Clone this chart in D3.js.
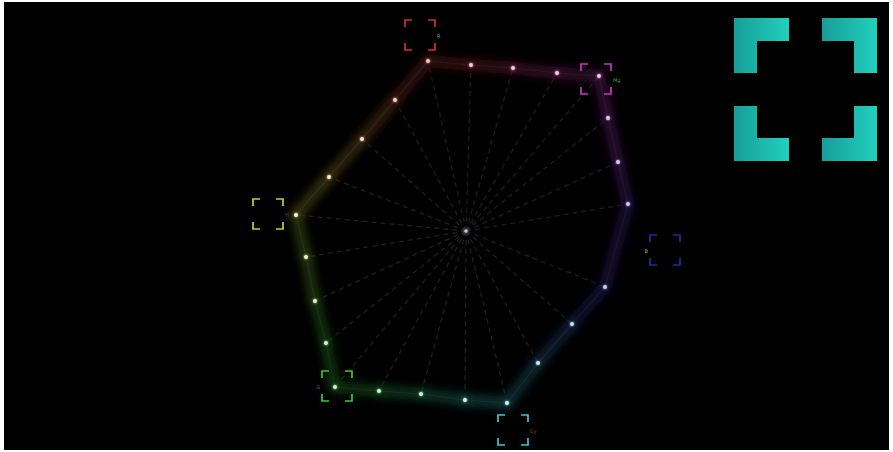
<!DOCTYPE html>
<html>
<head>
<meta charset="utf-8">
<script src="https://cdn.jsdelivr.net/npm/d3@7"></script>
<style>
  html, body { margin: 0; padding: 0; background: #fff; }
  svg { display: block; }
</style>
</head>
<body>
<svg id="scope" width="893" height="452"></svg>
<script>
// Trace points, in vectorscope units (u = Cb axis, v = Cr axis)
var traceU = [-0.19, 0.025, 0.235, 0.455, 0.665, 0.71, 0.76, 0.81, 0.695, 0.53, 0.36, 0.205,
              -0.005, -0.225, -0.435, -0.655, -0.70, -0.755, -0.80, -0.85, -0.685, -0.52, -0.355];
var traceV = [0.85, 0.83, 0.815, 0.79, 0.775, 0.565, 0.345, 0.135, -0.28, -0.465, -0.66, -0.86,
              -0.845, -0.815, -0.80, -0.78, -0.56, -0.35, -0.13, 0.08, 0.27, 0.46, 0.655];

// Colour targets
var targetNames = ["R", "Mg", "B", "Cy", "G", "Yl"];
var targetU = [-0.23, 0.65, 0.995, 0.235, -0.645, -0.99];
var targetV = [0.98, 0.76, -0.095, -0.995, -0.775, 0.085];
var targetHue = [0, 300, 240, 180, 120, 60];

var svg = d3.select("#scope");
var width = 893, height = 452;
var cx = 466, cy = 231, radius = 200;

var x = d3.scaleLinear().domain([-1, 1]).range([cx - radius, cx + radius]);
var y = d3.scaleLinear().domain([-1, 1]).range([cy + radius, cy - radius]);

// glow filters
var defs = svg.append("defs");
var blur = defs.append("filter").attr("id", "blur")
    .attr("x", "-50%").attr("y", "-50%").attr("width", "200%").attr("height", "200%");
blur.append("feGaussianBlur").attr("stdDeviation", 4);
var glow = defs.append("filter").attr("id", "glow")
    .attr("x", "-100%").attr("y", "-100%").attr("width", "300%").attr("height", "300%");
glow.append("feGaussianBlur").attr("in", "SourceGraphic").attr("stdDeviation", 1.2).attr("result", "b");
var merge = glow.append("feMerge");
merge.append("feMergeNode").attr("in", "b");
merge.append("feMergeNode").attr("in", "SourceGraphic");

var grad = defs.append("linearGradient").attr("id", "teal")
    .attr("x1", "0").attr("x2", "1").attr("y1", "0").attr("y2", "0");
grad.append("stop").attr("offset", "0%").attr("stop-color", "#169e98");
grad.append("stop").attr("offset", "100%").attr("stop-color", "#22cfbd");

// background
svg.append("rect").attr("x", 4).attr("y", 2)
    .attr("width", width - 8).attr("height", height - 4)
    .attr("fill", "#000");

// hue of a point from its angle, interpolated between the target hues
var targetAng = targetU.map(function(u, i) { return Math.atan2(targetV[i], u) * 180 / Math.PI; });
function hueAt(u, v) {
  var a = Math.atan2(v, u) * 180 / Math.PI;
  for (var i = 0; i < targetAng.length; i++) {
    var a0 = targetAng[i], a1 = targetAng[(i + 1) % targetAng.length];
    var h0 = targetHue[i], h1 = targetHue[(i + 1) % targetHue.length];
    if (h1 > h0) h1 -= 360;
    var span = ((a0 - a1) % 360 + 360) % 360;
    var off = ((a0 - a) % 360 + 360) % 360;
    if (off <= span) {
      var h = h0 + (h1 - h0) * off / span;
      return (h + 360) % 360;
    }
  }
  return 0;
}

var points = traceU.map(function(u, i) {
  return { u: u, v: traceV[i], hue: hueAt(u, traceV[i]) };
});

// spokes from centre
svg.append("g").selectAll("line.spoke")
    .data(points)
    .enter().append("line")
    .attr("class", "spoke")
    .attr("x1", x(0)).attr("y1", y(0))
    .attr("x2", function(d) { return x(d.u); })
    .attr("y2", function(d) { return y(d.v); })
    .attr("stroke", function(d) { return d3.hsl(d.hue, 0.12, 0.2).toString(); })
    .attr("stroke-opacity", 0.6)
    .attr("stroke-width", 1.3)
    .attr("stroke-dasharray", "5,4");

// glow band along the trace
var segs = points.map(function(d, i) { return [d, points[(i + 1) % points.length]]; });
svg.append("g").attr("filter", "url(#blur)")
  .selectAll("line")
    .data(segs)
    .enter().append("line")
    .attr("x1", function(d) { return x(d[0].u); })
    .attr("y1", function(d) { return y(d[0].v); })
    .attr("x2", function(d) { return x(d[1].u); })
    .attr("y2", function(d) { return y(d[1].v); })
    .attr("stroke", function(d) { return d3.hsl(d[0].hue, 0.7, 0.14).toString(); })
    .attr("stroke-opacity", 0.7)
    .attr("stroke-width", 13)
    .attr("stroke-linecap", "round");

svg.append("g")
  .selectAll("line")
    .data(segs)
    .enter().append("line")
    .attr("x1", function(d) { return x(d[0].u); })
    .attr("y1", function(d) { return y(d[0].v); })
    .attr("x2", function(d) { return x(d[1].u); })
    .attr("y2", function(d) { return y(d[1].v); })
    .attr("stroke", function(d) { return d3.hsl(d[0].hue, 0.4, 0.18).toString(); })
    .attr("stroke-opacity", 0.5)
    .attr("stroke-width", 1.2);

// trace dots
svg.append("g").attr("filter", "url(#glow)")
  .selectAll("circle")
    .data(points)
    .enter().append("circle")
    .attr("cx", function(d) { return x(d.u); })
    .attr("cy", function(d) { return y(d.v); })
    .attr("r", 1.9)
    .attr("fill", function(d) { return d3.hsl(d.hue, 0.9, 0.88).toString(); });

// centre dot
svg.append("circle").attr("cx", x(0)).attr("cy", y(0)).attr("r", 1.6)
    .attr("fill", "#ccc").attr("filter", "url(#glow)");

// colour target boxes (corner brackets)
var half = 15, arm = 7;
var targets = svg.append("g").selectAll("g.target")
    .data(targetNames.map(function(n, i) {
      return { name: n, u: targetU[i], v: targetV[i], hue: targetHue[i] };
    }))
    .enter().append("g")
    .attr("class", "target")
    .attr("transform", function(d) { return "translate(" + x(d.u) + "," + y(d.v) + ")"; });

targets.append("path")
    .attr("d", function() {
      var h = half, a = arm;
      return "M" + (-h) + "," + (-h + a) + "V" + (-h) + "H" + (-h + a) +
             "M" + (h - a) + "," + (-h) + "H" + h + "V" + (-h + a) +
             "M" + h + "," + (h - a) + "V" + h + "H" + (h - a) +
             "M" + (-h + a) + "," + h + "H" + (-h) + "V" + (h - a);
    })
    .attr("fill", "none")
    .attr("stroke", function(d) {
      return d3.hsl(d.hue, 0.6, d.name === "B" ? 0.4 : 0.5).toString();
    })
    .attr("stroke-width", 1.7);

targets.append("text")
    .attr("x", function(d) { return (d.name === "G" || d.name === "B") ? -half - 2 : half + 2; })
    .attr("y", 3)
    .attr("text-anchor", function(d) { return (d.name === "G" || d.name === "B") ? "end" : "start"; })
    .attr("font-family", "DejaVu Sans, sans-serif")
    .attr("font-size", 5)
    .attr("fill", function(d) { return d3.hsl((d.hue + 180) % 360, 0.45, 0.45).toString(); })
    .text(function(d) { return d.name; });

// fullscreen icon, top right
var icon = svg.append("g").attr("transform", "translate(734,18)");
var s = 55, t = 23, gap = 33;
var corners = [[0, 0, 1, 1], [s + gap, 0, -1, 1], [0, s + gap, 1, -1], [s + gap, s + gap, -1, -1]];
icon.selectAll("path")
    .data(corners)
    .enter().append("path")
    .attr("d", function(c) {
      var ox = c[2] > 0 ? 0 : s, oy = c[3] > 0 ? 0 : s;
      var x0 = c[0] + ox, y0 = c[1] + oy, dx = c[2], dy = c[3];
      return "M" + x0 + "," + y0 +
             "h" + dx * s + "v" + dy * t + "h" + (-dx * (s - t)) +
             "v" + dy * (s - t) + "h" + (-dx * t) + "Z";
    })
    .attr("fill", "url(#teal)");
</script>
</body>
</html>
